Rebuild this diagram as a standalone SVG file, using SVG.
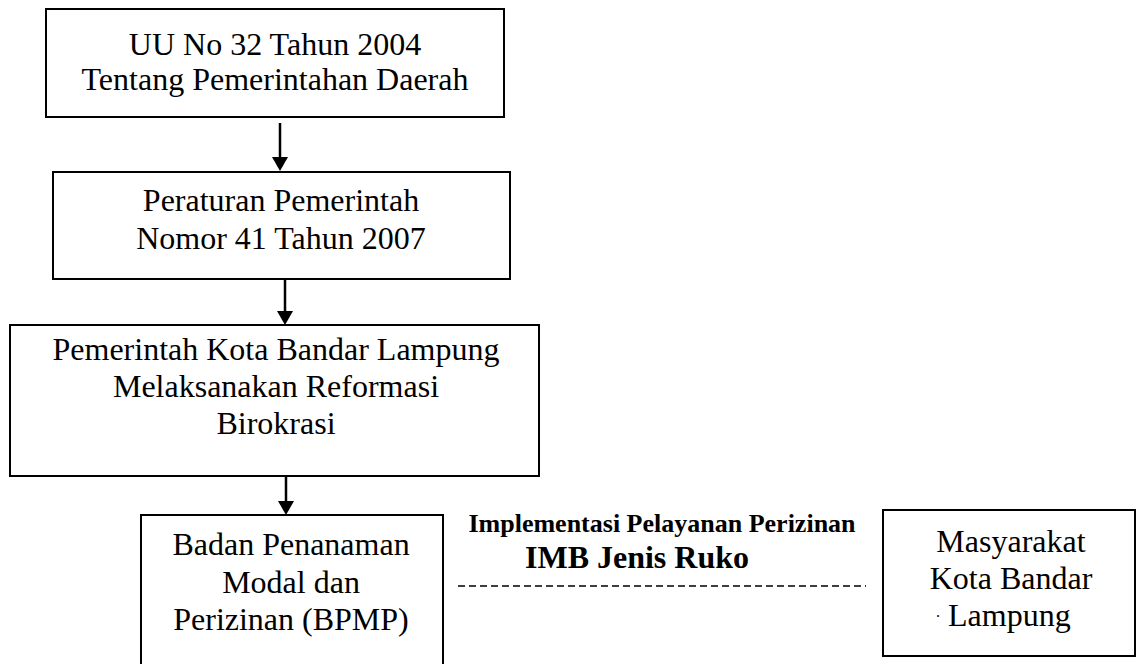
<svg xmlns="http://www.w3.org/2000/svg" width="1137" height="664" viewBox="0 0 1137 664">
<style>
.box{fill:#fff;stroke:#000;stroke-width:2}
.t{font-family:"Liberation Serif","Times New Roman",serif;font-size:32px;fill:#000;text-anchor:middle}
.b{font-family:"Liberation Serif","Times New Roman",serif;font-weight:bold;fill:#000;text-anchor:middle}
.arr{stroke:#000;stroke-width:2.5;fill:none}
.dash{stroke:#000;stroke-width:1.5;stroke-dasharray:7 4;fill:none}
</style>
<defs>
<marker id="ah" markerUnits="userSpaceOnUse" markerWidth="14" markerHeight="16" viewBox="0 0 14 16" refX="8" refY="8" orient="auto">
<path d="M0,0 L14,8 L0,16 Z" fill="#000"/>
</marker>
</defs>
<rect width="1137" height="664" fill="#fff"/>
<g id="connectors">
<line class="arr" x1="280" y1="123" x2="280" y2="165" marker-end="url(#ah)"/>
<line class="arr" x1="285" y1="280" x2="285" y2="319" marker-end="url(#ah)"/>
<line class="arr" x1="286" y1="477" x2="286" y2="509" marker-end="url(#ah)"/>
<line class="dash" x1="458" y1="586" x2="866" y2="586"/>
</g>
<g id="node-uu">
<rect class="box" x="46" y="9" width="458" height="108"/>
<text class="t" x="275" y="55">UU No 32 Tahun 2004</text>
<text class="t" x="275" y="90">Tentang Pemerintahan Daerah</text>
</g>
<g id="node-pp">
<rect class="box" x="53" y="172" width="457" height="107"/>
<text class="t" x="281" y="211">Peraturan Pemerintah</text>
<text class="t" x="281" y="249">Nomor 41 Tahun 2007</text>
</g>
<g id="node-pemkot">
<rect class="box" x="10" y="325" width="529" height="151"/>
<text class="t" x="276" y="360">Pemerintah Kota Bandar Lampung</text>
<text class="t" x="276" y="397">Melaksanakan Reformasi</text>
<text class="t" x="276" y="434">Birokrasi</text>
</g>
<g id="node-bpmp">
<rect class="box" x="141" y="515" width="302" height="170"/>
<text class="t" x="291" y="555">Badan Penanaman</text>
<text class="t" x="291" y="593">Modal dan</text>
<text class="t" x="291" y="630">Perizinan (BPMP)</text>
</g>
<g id="label-implementasi">
<text class="b" x="662" y="532" font-size="26">Implementasi Pelayanan Perizinan</text>
<text class="b" x="637" y="568" font-size="32">IMB Jenis Ruko</text>
</g>
<g id="node-masyarakat">
<rect class="box" x="883" y="510" width="252" height="146"/>
<text class="t" x="1011" y="552">Masyarakat</text>
<text class="t" x="1011" y="589">Kota Bandar</text>
<text class="t" x="936" y="626" style="text-anchor:start"><tspan font-size="16" dy="-9">.</tspan><tspan dy="9"> Lampung</tspan></text>
</g>
</svg>
